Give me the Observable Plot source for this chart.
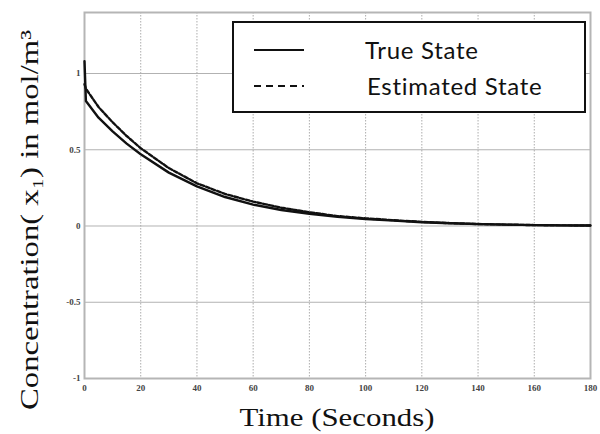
<!DOCTYPE html>
<html><head><meta charset="utf-8">
<script src="https://cdn.jsdelivr.net/npm/d3@7"></script>
<script src="https://cdn.jsdelivr.net/npm/@observablehq/plot@0.6"></script>
<style>
body{margin:0;background:#fff;}
#wrap{position:relative;width:600px;height:434px;overflow:hidden;}
#legend{position:absolute;left:232px;top:21px;width:350px;height:88px;border:2px solid #111;background:#fff;font-family:Lato,sans-serif;font-size:24px;letter-spacing:0.7px;color:#111;}
#legend .row{position:absolute;left:0;display:flex;align-items:center;}
</style>
</head><body>
<div id="wrap"><div id="chart"></div>
<div id="legend">
 <div class="row" style="top:12px"><svg width="130" height="24"><line x1="20" x2="70" y1="12" y2="12" stroke="#111" stroke-width="1.8"/></svg><span style="margin-left:1px">True State</span></div>
 <div class="row" style="top:48px"><svg width="130" height="24"><line x1="20" x2="70" y1="12" y2="12" stroke="#111" stroke-width="1.8" stroke-dasharray="7,5"/></svg><span style="margin-left:3px">Estimated State</span></div>
</div>
</div>
<script>
const time      = [0, 0.5, 5, 10, 15, 20, 30, 40, 50, 60, 70, 80, 90, 100, 110, 120, 130, 140, 150, 160, 170, 180];
const trueState = [1.08, 0.82, 0.71, 0.62, 0.54, 0.47, 0.35, 0.26, 0.19, 0.14, 0.105, 0.08, 0.06, 0.045, 0.035, 0.025, 0.018, 0.012, 0.009, 0.006, 0.004, 0.003];
const estState  = [0.93, 0.90, 0.78, 0.68, 0.59, 0.51, 0.38, 0.28, 0.21, 0.16, 0.12, 0.09, 0.065, 0.05, 0.038, 0.027, 0.019, 0.013, 0.009, 0.006, 0.004, 0.003];
const xTicks = [0, 20, 40, 60, 80, 100, 120, 140, 160, 180];
const yTicks = [-1, -0.5, 0, 0.5, 1];
const xLabel = "Time (Seconds)";
const yLabel = "Concentration( x\u2081) in mol/m\u00b3";

const trueData = time.map((t, i) => ({t, v: trueState[i]}));
const estData = time.map((t, i) => ({t, v: estState[i]}));

const chart = Plot.plot({
  width: 600, height: 434,
  marginLeft: 84, marginRight: 10, marginTop: 12, marginBottom: 56,
  style: {fontFamily: "'Liberation Serif', serif", background: "#fff"},
  x: {domain: [0, 180]},
  y: {domain: [-1, 1.4]},
  marks: [
    Plot.gridX(xTicks, {stroke: "#999", strokeOpacity: 0.8, strokeDasharray: "1.5,1.5"}),
    Plot.gridY(yTicks, {stroke: "#aaa", strokeOpacity: 0.9}),
    Plot.frame({stroke: "#b5b5b5", strokeWidth: 2}),
    Plot.axisX({ticks: xTicks, tickSize: 0, tickPadding: 6, fontSize: 9, fontWeight: "bold", label: null, tickFormat: d => String(d), fill: "#444"}),
    Plot.axisY({ticks: yTicks, tickSize: 0, tickPadding: 4, fontSize: 9, fontWeight: "bold", label: null, tickFormat: d => String(d), fill: "#444"}),
    Plot.line(trueData, {x: "t", y: "v", stroke: "#111", strokeWidth: 2.4}),
    Plot.line(estData, {x: "t", y: "v", stroke: "#111", strokeWidth: 2.4, strokeDasharray: "4,2"})
  ]
});
const svg = d3.select(chart);
svg.append("text").attr("x", 337).attr("y", 426).attr("text-anchor", "middle")
  .attr("font-family", "'Liberation Serif', serif").attr("font-size", 26).attr("fill", "#111")
  .attr("textLength", 195).attr("lengthAdjust", "spacingAndGlyphs").text(xLabel);
svg.append("text").attr("transform", "translate(38,220) rotate(-90)").attr("text-anchor", "middle")
  .attr("font-family", "'Liberation Serif', serif").attr("font-size", 25).attr("fill", "#111")
  .attr("textLength", 380).attr("lengthAdjust", "spacingAndGlyphs").text(yLabel);
document.getElementById("chart").append(chart);
</script>
</body></html>
